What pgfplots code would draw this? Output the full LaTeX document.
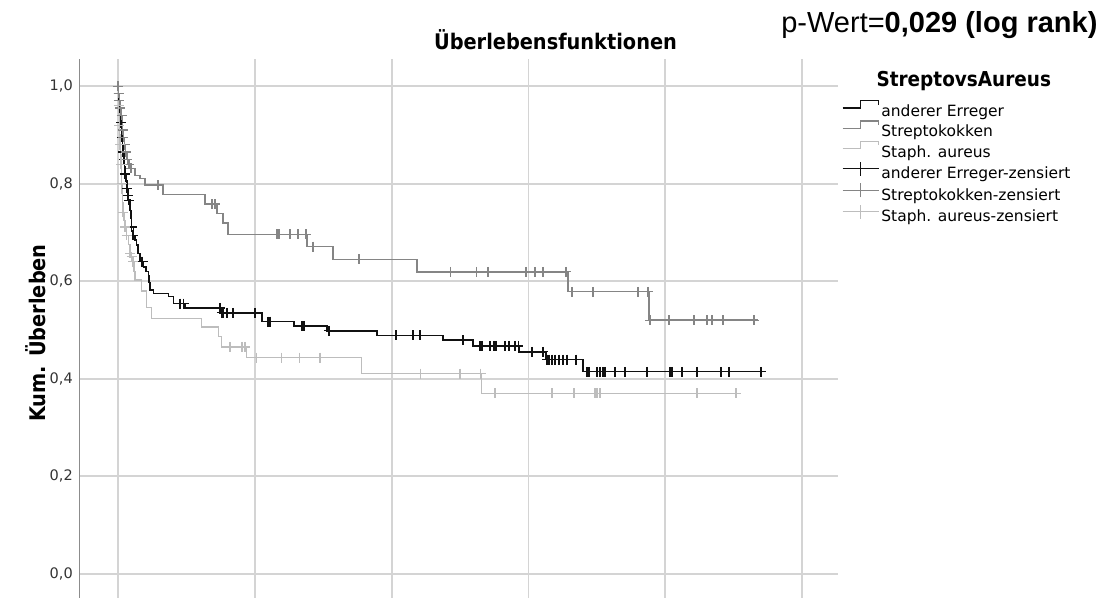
\documentclass[border=0pt]{standalone}
\usepackage{pgfplots}
\pgfplotsset{compat=1.18}
\usepackage{fontspec}
\setmainfont{DejaVu Sans}
\newfontfamily\condfont{DejaVu Sans Condensed}
\newfontfamily\arialfont{Liberation Sans}

\definecolor{gridgray}{HTML}{D4D4D4}
\definecolor{axisgray}{HTML}{8C8C8C}
\definecolor{strepgray}{HTML}{858585}
\definecolor{staphgray}{HTML}{BDBDBD}
\definecolor{curveblack}{HTML}{111111}
\definecolor{ticktext}{HTML}{333333}

\begin{document}
\begin{tikzpicture}
\useasboundingbox (0,0) rectangle (1110bp,598bp);
\begin{axis}[
  at={(79bp,0bp)}, anchor=south west,
  width=759bp, height=538.7bp, scale only axis,
  xmin=-0.285, xmax=5.263, ymin=-0.05, ymax=1.055,
  axis line style={draw=none},
  xtick={0,1,2,3,4,5}, xticklabels={},
  ytick={0,0.2,0.4,0.6,0.8,1.0},
  major tick length=0pt,
  grid=major,
  major grid style={color=gridgray, line width=1.8bp},
  yticklabel style={font=\fontsize{14.5bp}{17bp}\selectfont, text=ticktext, inner sep=0pt, xshift=-6bp},
  /pgf/number format/.cd, fixed, fixed zerofill, precision=1, use comma, assume math mode=true,
  /pgfplots/.cd,
  legend style={at={(axis description cs:1.0053,0.9245)}, anchor=north west,
    draw=none, fill=none, inner sep=0pt, outer sep=0pt, row sep=0bp, column sep=2bp,
    nodes={inner sep=0pt, text height=12bp, text depth=4bp,
      font=\fontsize{15.5bp}{19bp}\selectfont}},
  legend cell align=left,
]
% left axis line
\draw[axisgray, line width=1.4bp] (rel axis cs:0,0) -- (rel axis cs:0,1);

% anderer Erreger
\addplot[const plot, curveblack, line width=1.4bp,
  legend image code/.code={\draw[curveblack, line width=1.3bp] (0,4.3bp) -- (18bp,4.3bp) -- (18bp,11.7bp) -- (36bp,11.7bp) -- (36bp,7.7bp);}]
coordinates {
(0,1.000) (0.004,0.985) (0.007,0.970) (0.015,0.955) (0.018,0.940) (0.022,0.925)
(0.026,0.910) (0.029,0.895) (0.033,0.880) (0.037,0.865) (0.044,0.850) (0.048,0.835)
(0.051,0.820) (0.058,0.805) (0.066,0.790) (0.073,0.776) (0.077,0.766) (0.088,0.745)
(0.095,0.728) (0.100,0.711) (0.112,0.694) (0.124,0.684) (0.137,0.674) (0.146,0.657)
(0.161,0.640) (0.185,0.629) (0.205,0.620) (0.221,0.612) (0.227,0.597) (0.234,0.582)
(0.258,0.575) (0.368,0.568) (0.404,0.554) (0.490,0.545) (0.746,0.535) (1.053,0.517)
(1.287,0.508) (1.528,0.498) (1.893,0.489) (2.376,0.479) (2.595,0.467) (2.931,0.455)
(3.129,0.439) (3.399,0.414) (4.730,0.414)
};
\addlegendentry{anderer Erreger}

% Streptokokken
\addplot[const plot, strepgray, line width=1.3bp,
  legend image code/.code={\draw[strepgray, line width=1.3bp] (0,4.3bp) -- (18bp,4.3bp) -- (18bp,11.7bp) -- (36bp,11.7bp) -- (36bp,7.7bp);}]
coordinates {
(0,1.000) (0.004,0.985) (0.011,0.970) (0.018,0.955) (0.022,0.940) (0.029,0.925)
(0.033,0.910) (0.040,0.895) (0.048,0.880) (0.055,0.865) (0.066,0.850) (0.077,0.840)
(0.088,0.831) (0.124,0.817) (0.161,0.811) (0.197,0.797) (0.329,0.778) (0.636,0.758)
(0.724,0.739) (0.768,0.719) (0.804,0.696) (1.382,0.671) (1.572,0.645) (2.186,0.619)
(3.289,0.578) (3.882,0.520) (4.678,0.520)
};
\addlegendentry{Streptokokken}

% Staph. aureus
\addplot[const plot, staphgray, line width=1.3bp,
  legend image code/.code={\draw[staphgray, line width=1.3bp] (0,4.3bp) -- (18bp,4.3bp) -- (18bp,11.7bp) -- (36bp,11.7bp) -- (36bp,7.7bp);}]
coordinates {
(0,1.000) (0.002,0.980) (0.004,0.960) (0.007,0.940) (0.011,0.920) (0.013,0.900)
(0.015,0.880) (0.018,0.860) (0.022,0.840) (0.024,0.820) (0.026,0.800) (0.029,0.780)
(0.033,0.760) (0.037,0.741) (0.044,0.725) (0.051,0.711) (0.064,0.694) (0.077,0.675)
(0.088,0.657) (0.100,0.650) (0.110,0.640) (0.117,0.620) (0.124,0.602) (0.173,0.580)
(0.210,0.546) (0.246,0.523) (0.612,0.506) (0.733,0.486) (0.758,0.465) (0.941,0.443)
(1.781,0.410) (2.659,0.370) (4.547,0.370)
};
\addlegendentry{Staph. aureus}

% censored cases
\addplot[only marks, mark=+, mark size=5bp, curveblack, mark options={line width=1.3bp},
  legend image code/.code={\draw[curveblack, line width=1.3bp] (0,6bp) -- (36bp,6bp); \draw[curveblack, line width=1.3bp] (18bp,-1bp) -- (18bp,13bp);}]
coordinates {
(0.004,0.985) (0.007,0.970) (0.015,0.955) (0.022,0.925) (0.029,0.895) (0.037,0.865)
(0.044,0.850) (0.051,0.820) (0.066,0.790) (0.073,0.776) (0.077,0.766) (0.100,0.711)
(0.110,0.694) (0.173,0.640) (0.180,0.640) (0.453,0.554) (0.480,0.554) (0.746,0.545)
(0.760,0.535) (0.768,0.535) (0.797,0.535) (0.841,0.535) (1.001,0.535) (1.096,0.517)
(1.111,0.517) (1.345,0.508) (1.360,0.508) (1.542,0.498) (2.032,0.489) (2.156,0.489)
(2.208,0.489) (2.522,0.479) (2.646,0.467) (2.661,0.467) (2.719,0.467) (2.749,0.467)
(2.763,0.467) (2.829,0.467) (2.858,0.467) (2.902,0.467) (2.925,0.467) (3.026,0.455)
(3.107,0.455) (3.136,0.439) (3.151,0.439) (3.173,0.439) (3.194,0.439) (3.224,0.439)
(3.253,0.439) (3.282,0.439) (3.348,0.439) (3.428,0.414) (3.443,0.414) (3.501,0.414)
(3.523,0.414) (3.545,0.414) (3.560,0.414) (3.633,0.414) (3.706,0.414) (3.867,0.414)
(4.035,0.414) (4.050,0.414) (4.123,0.414) (4.232,0.414) (4.408,0.414) (4.467,0.414)
(4.700,0.414)
};
\addlegendentry{anderer Erreger-zensiert}

\addplot[only marks, mark=+, mark size=5bp, strepgray, mark options={line width=1.2bp},
  legend image code/.code={\draw[strepgray, line width=1.2bp] (0,6bp) -- (36bp,6bp); \draw[strepgray, line width=1.2bp] (18bp,-1bp) -- (18bp,13bp);}]
coordinates {
(0,1.000) (0.004,0.985) (0.011,0.970) (0.018,0.955) (0.026,0.940) (0.033,0.910)
(0.040,0.895) (0.048,0.880) (0.055,0.865) (0.069,0.850) (0.080,0.840) (0.095,0.831)
(0.292,0.797) (0.687,0.758) (0.709,0.758) (1.162,0.696) (1.177,0.696) (1.257,0.696)
(1.316,0.696) (1.374,0.696) (1.425,0.671) (1.762,0.645) (2.432,0.619) (2.622,0.619)
(2.705,0.619) (2.982,0.619) (3.048,0.619) (3.107,0.619) (3.275,0.619) (3.319,0.578)
(3.472,0.578) (3.801,0.578) (3.874,0.578) (3.889,0.520) (4.028,0.520) (4.211,0.520)
(4.306,0.520) (4.342,0.520) (4.423,0.520) (4.649,0.520)
};
\addlegendentry{Streptokokken-zensiert}

\addplot[only marks, mark=+, mark size=5bp, staphgray, mark options={line width=1.2bp},
  legend image code/.code={\draw[staphgray, line width=1.2bp] (0,6bp) -- (36bp,6bp); \draw[staphgray, line width=1.2bp] (18bp,-1bp) -- (18bp,13bp);}]
coordinates {
(0.004,0.960) (0.011,0.920) (0.015,0.880) (0.022,0.840) (0.026,0.800) (0.037,0.741)
(0.051,0.711) (0.064,0.694) (0.088,0.657) (0.100,0.650) (0.110,0.640) (0.819,0.465)
(0.906,0.465) (0.928,0.465) (1.014,0.443) (1.197,0.443) (1.325,0.443) (1.477,0.443)
(2.213,0.410) (2.500,0.410) (2.651,0.410) (2.756,0.370) (3.173,0.370) (3.333,0.370)
(3.487,0.370) (3.501,0.370) (3.523,0.370) (4.232,0.370) (4.518,0.370)
};
\addlegendentry{Staph. aureus-zensiert}
\end{axis}

% titles and labels
\node[anchor=base, font=\condfont\bfseries\fontsize{21.5bp}{25bp}\selectfont] at (555.5bp,548bp) {Überlebensfunktionen};
\node[anchor=base east, font=\arialfont\fontsize{29bp}{34bp}\selectfont] at (1101bp,565bp) {p-Wert=\textbf{0,029 (log rank)}};
\node[anchor=base, rotate=90, font=\condfont\bfseries\fontsize{21.5bp}{25bp}\selectfont] at (45bp,265bp) {Kum. Überleben};
\node[anchor=base west, font=\condfont\bfseries\fontsize{20.5bp}{24bp}\selectfont] at (873bp,511bp) {StreptovsAureus};
\end{tikzpicture}
\end{document}
